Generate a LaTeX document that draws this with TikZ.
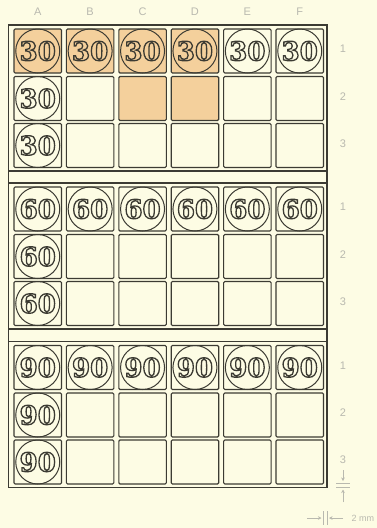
\documentclass[tikz,border=0pt]{standalone}
\usepackage{fontspec}
\setmainfont{DejaVu Serif}
\newfontfamily\labfont{Liberation Sans}
\newfontfamily\numfont{DejaVu Serif Bold}
\usetikzlibrary{arrows.meta}
\definecolor{bg}{HTML}{FDFCE4}
\definecolor{ink}{HTML}{3C3B33}
\definecolor{orng}{HTML}{F4D09C}
\definecolor{lab}{HTML}{B9B9AF}
\tikzset{
  cellbox/.style={draw=ink, line width=1.1pt, rounded corners=1.2pt},
  frameline/.style={draw=ink, line width=1.2pt},
  coin/.style={draw=ink, line width=1pt},
  lbl/.style={text=lab, font=\labfont\fontsize{11}{11}\selectfont},
  dim/.style={draw=lab, line width=0.8pt},
  dimarrow/.style={draw=lab, line width=0.8pt, -{Stealth[length=3.5pt,width=3.5pt]}}
}
\newcommand{\coinnum}[1]{\numfont\fontsize{26}{26}\selectfont\color{ink}\special{pdf:literal direct 1 Tr 1.3 w}#1\special{pdf:literal direct 0 Tr}}
\begin{document}
\begin{tikzpicture}[x=1pt,y=-1pt]
\fill[bg] (0,0) rectangle (377,528);
\useasboundingbox (0,0) rectangle (377,528);
% column labels
\foreach \L [count=\i from 0] in {A,B,C,D,E,F}
  \node[lbl] (col\L) at ({37.75+52.4*\i},12) {\L};
% sections
\foreach \s/\yz/\num in {1/25/30,2/183/60,3/341.5/90}{
  \foreach \r/\dy in {1/4,2/51.5,3/98.5}{
    \node[lbl] (row\s\r) at (343,{\yz+\dy+20}) {\r};
    \foreach \L [count=\i from 0] in {A,B,C,D,E,F}{
      \pgfmathsetmacro{\xl}{14+52.4*\i}
      \pgfmathsetmacro{\yt}{\yz+\dy}
      \def\fc{bg}
      \ifnum\s=1
        \ifnum\r=1 \ifnum\i<4 \def\fc{orng}\fi\fi
        \ifnum\r=2 \ifnum\i>1 \ifnum\i<4 \def\fc{orng}\fi\fi\fi
      \fi
      \path[cellbox, fill=\fc] (\xl,\yt) rectangle ++(47.5,44);
      \coordinate (c\s\r\L) at ({\xl+23.75},{\yt+22});
      \def\hascoin{0}
      \ifnum\r=1 \def\hascoin{1}\fi
      \ifnum\i=0 \def\hascoin{1}\fi
      \ifnum\hascoin=1
        \draw[coin] (c\s\r\L) circle (22);
        \node[inner sep=0pt] (n\s\r\L) at (c\s\r\L) {\coinnum{\num}};
      \fi
    }
  }
}
% outer frame and separators
\draw[frameline] (8.5,25) rectangle (327,487.5);
\foreach \yy in {171,183,329,341.5}
  \draw[frameline] (8.5,\yy) -- (327,\yy);
% dimension marks
\coordinate (h1a) at (336,483);
\coordinate (h1b) at (350,483);
\coordinate (h2a) at (336,487.5);
\coordinate (h2b) at (350,487.5);
\draw[dim] (h1a) -- (h1b);
\draw[dim] (h2a) -- (h2b);
\coordinate (da) at (343,470);
\coordinate (db) at (343,481);
\coordinate (ua) at (343,502);
\coordinate (ub) at (343,489.5);
\draw[dimarrow] (da) -- (db);
\draw[dimarrow] (ua) -- (ub);
\coordinate (v1a) at (323.5,511);
\coordinate (v1b) at (323.5,525);
\coordinate (v2a) at (327,511);
\coordinate (v2b) at (327,525);
\draw[dim] (v1a) -- (v1b);
\draw[dim] (v2a) -- (v2b);
\coordinate (la) at (307,518);
\coordinate (lb) at (321.5,518);
\coordinate (ra) at (343,518);
\coordinate (rb) at (329,518);
\draw[dimarrow] (la) -- (lb);
\draw[dimarrow] (ra) -- (rb);
\node[lbl, anchor=west, font=\labfont\fontsize{9}{9}\selectfont] (mm) at (348,518) {2 mm};
\end{tikzpicture}
\end{document}
